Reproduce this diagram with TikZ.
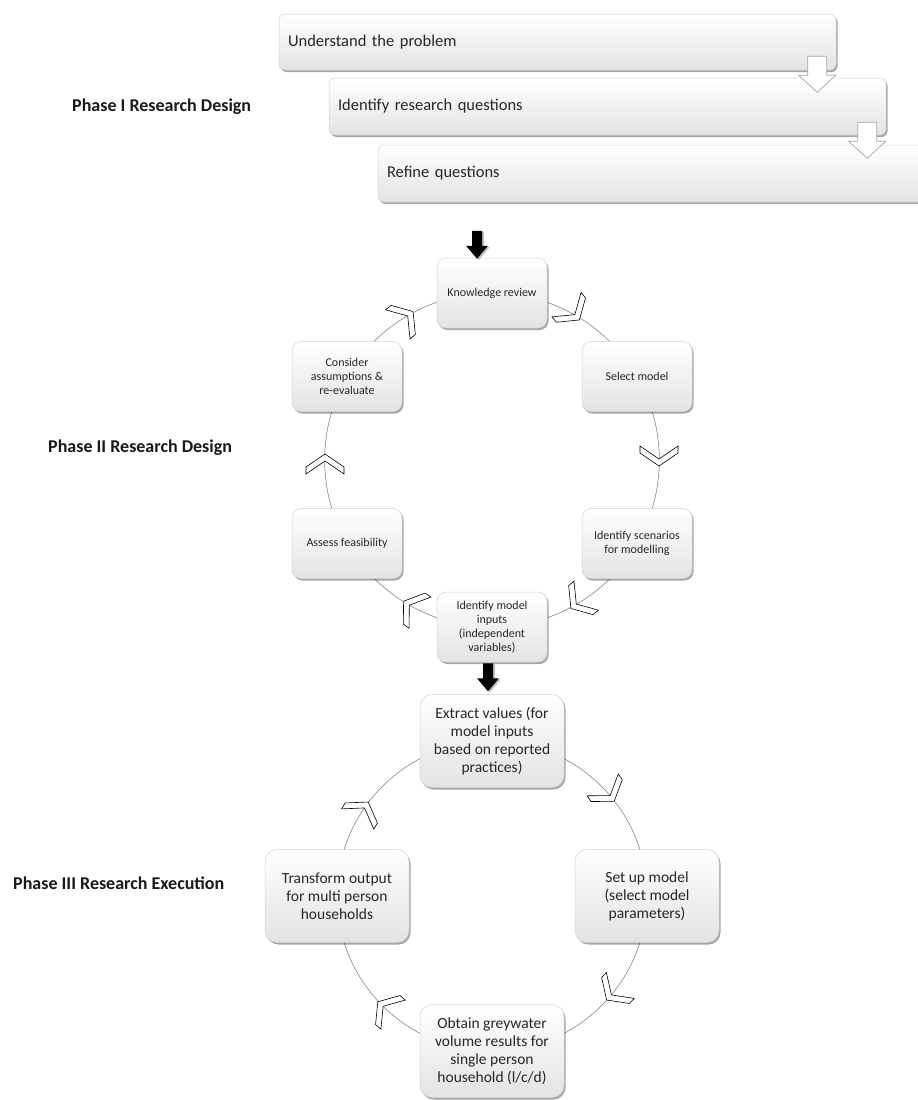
\documentclass[tikz,border=0pt]{standalone}
\usepackage{fontspec}
\setmainfont{Carlito}
\usetikzlibrary{shadows,calc}
\pgfdeclarelayer{background}
\pgfsetlayers{background,main}
\tikzset{
  box/.style={rounded corners=9pt, draw=gray!35, line width=0.5pt,
    top color=white, bottom color=gray!22,
    drop shadow={shadow xshift=1.5pt, shadow yshift=-2pt, opacity=0.35, fill=black},
    align=center, text=black!85, inner sep=2pt},
  topbox/.style={box, rounded corners=6pt, font=\fontsize{16.5}{19}\selectfont,
    align=left, inner xsep=9pt, minimum height=57pt},
  pbox/.style={box, minimum width=110pt, minimum height=70pt, font=\fontsize{12}{14}\selectfont},
  ebox/.style={box, rounded corners=12pt, minimum width=144pt, minimum height=93pt,
    font=\fontsize{15.5}{18}\selectfont},
  phase/.style={font=\fontsize{18}{20}\selectfont\bfseries, anchor=west, inner sep=0pt, text=black!90},
  cyc/.style={draw=gray!85, line width=0.7pt},
  chev/.pic={\draw[fill=white, line width=0.6pt, line join=miter]
    (6,0) -- (-7,19) -- (-14,19) -- (-1,0) -- (-14,-19) -- (-7,-19) -- cycle;},
  hollowarrow/.pic={\draw[fill=white, draw=gray!70, line width=0.7pt]
    (-9.5,-36) -- (9.5,-36) -- (9.5,-17) -- (18.5,-17) -- (0,0) -- (-18.5,-17) -- (-9.5,-17) -- cycle;},
  blackarrow/.pic={
    \fill[black, opacity=0.25] (-3,-27) -- (7,-27) -- (7,-12) -- (13,-12) -- (2,1) -- (-9,-12) -- (-3,-12) -- cycle;
    \fill[black] (-5,-28) -- (5,-28) -- (5,-13) -- (11,-13) -- (0,0) -- (-11,-13) -- (-5,-13) -- cycle;}
}
\begin{document}
\begin{tikzpicture}[x=1pt,y=-1pt]
\useasboundingbox (0,0) rectangle (918,1100);
\clip (0,0) rectangle (918,1100);
\begin{pgfonlayer}{background}
\fill[white] (0,0) rectangle (918,1100);
\end{pgfonlayer}

% Phase I
\node[topbox, minimum width=552pt, text width=534pt] (b3) at (654,173.5) {Refine questions};
\node[topbox, minimum width=557pt, text width=539pt] (b2) at (607.5,106.5) {Identify research questions};
\node[topbox, minimum width=557pt, text width=539pt, minimum height=56pt] (b1) at (557.5,42) {Understand the problem};
\pic at ([xshift=-19pt,yshift=-22pt]b1.south east) {hollowarrow};
\pic at ([xshift=-19pt,yshift=-23pt]b2.south east) {hollowarrow};

\node[phase] (p1) at (72,107) {Phase I Research Design};
\node[phase] (p2) at (48,448) {Phase II Research Design};
\node[phase] (p3) at (13,883) {Phase III Research Execution};

% Phase II cycle
\node[pbox] (kr) at (492,293) {Knowledge review};
\node[pbox] (sm) at (637,376.5) {Select model};
\node[pbox] (is) at (637,543.5) {Identify scenarios\\for modelling};
\node[pbox] (mi) at (492,627) {Identify model\\inputs\\(independent\\variables)};
\node[pbox] (af) at (347,543.5) {Assess feasibility};
\node[pbox] (ca) at (347,376.5) {Consider\\assumptions \&\\re-evaluate};

\begin{pgfonlayer}{background}
\draw[cyc] (kr.center) arc[start angle=90, end angle=30, radius=167pt];
\draw[cyc] (sm.center) arc[start angle=30, end angle=-30, radius=167pt];
\draw[cyc] (is.center) arc[start angle=-30, end angle=-90, radius=167pt];
\draw[cyc] (mi.center) arc[start angle=-90, end angle=-150, radius=167pt];
\draw[cyc] (af.center) arc[start angle=210, end angle=150, radius=167pt];
\draw[cyc] (ca.center) arc[start angle=150, end angle=90, radius=167pt];
\end{pgfonlayer}
\foreach \a/\r in {60/-50,0/-90,-60/-140,-120/145,180/90,120/40}
  \pic[rotate=\r] at ({492+167*cos(\a)},{460-167*sin(\a)}) {chev};

\pic at ([xshift=-15pt,yshift=-1pt]kr.north) {blackarrow};

% Phase III cycle
\node[ebox] (ev) at (492,741) {Extract values (for\\model inputs\\based on reported\\practices)};
\node[ebox] (su) at (647,896) {Set up model\\(select model\\parameters)};
\node[ebox] (og) at (492,1051) {Obtain greywater\\volume results for\\single person\\household (l/c/d)};
\node[ebox] (to) at (337,896) {Transform output\\for multi person\\households};

\begin{pgfonlayer}{background}
\draw[cyc] (ev.center) arc[start angle=90, end angle=0, radius=155pt];
\draw[cyc] (su.center) arc[start angle=0, end angle=-90, radius=155pt];
\draw[cyc] (og.center) arc[start angle=-90, end angle=-180, radius=155pt];
\draw[cyc] (to.center) arc[start angle=180, end angle=90, radius=155pt];
\end{pgfonlayer}
\foreach \a/\r in {40/-55,-40/-133,-135/140,145/58}
  \pic[rotate=\r] at ({492+155*cos(\a)},{896-155*sin(\a)}) {chev};

\pic at ([xshift=-4pt,yshift=3pt]ev.north) {blackarrow};
\end{tikzpicture}
\end{document}
